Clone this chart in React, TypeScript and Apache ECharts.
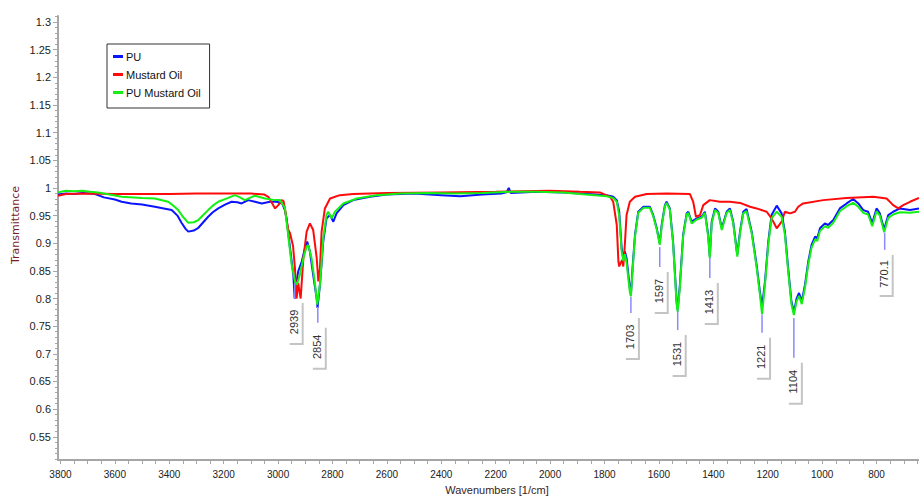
import React, { useEffect, useRef } from 'react';
import * as echarts from 'echarts';

// ---------- data ----------
const puWn = [3809, 3780, 3750, 3720, 3690, 3673, 3640, 3600, 3575, 3540, 3500, 3453, 3420, 3391, 3370, 3355, 3340, 3330, 3310, 3293, 3275, 3257, 3240, 3220, 3195, 3171, 3150, 3134, 3110, 3085, 3060, 3030, 3005, 2985, 2975, 2969, 2956, 2944, 2939, 2932, 2926, 2913, 2901, 2893, 2883, 2871, 2858, 2855, 2846, 2834, 2822, 2809, 2797, 2785, 2760, 2724, 2662, 2601, 2500, 2400, 2330, 2250, 2180, 2160, 2152, 2145, 2050, 1950, 1890, 1792, 1768, 1755, 1746, 1737, 1731, 1725, 1719, 1707, 1703, 1697, 1688, 1676, 1657, 1633, 1621, 1608, 1597, 1590, 1578, 1572, 1560, 1548, 1535, 1531, 1523, 1511, 1498, 1492, 1480, 1461, 1443, 1431, 1419, 1413, 1406, 1394, 1382, 1369, 1351, 1339, 1327, 1312, 1302, 1290, 1278, 1259, 1241, 1229, 1221, 1210, 1198, 1186, 1167, 1149, 1137, 1125, 1113, 1104, 1094, 1085, 1075, 1063, 1051, 1039, 1026, 1018, 1008, 990, 978, 959, 935, 910, 886, 867, 849, 831, 816, 800, 788, 772, 757, 739, 714, 677, 644];
const puT = [0.988, 0.99, 0.989, 0.991, 0.99, 0.989, 0.983, 0.979, 0.975, 0.972, 0.97, 0.966, 0.963, 0.96, 0.95, 0.937, 0.926, 0.921, 0.923, 0.928, 0.938, 0.948, 0.956, 0.963, 0.97, 0.975, 0.974, 0.972, 0.978, 0.975, 0.972, 0.975, 0.975, 0.972, 0.96, 0.945, 0.891, 0.843, 0.8, 0.83, 0.849, 0.867, 0.891, 0.903, 0.885, 0.843, 0.8, 0.783, 0.825, 0.903, 0.945, 0.951, 0.939, 0.954, 0.969, 0.978, 0.984, 0.988, 0.99, 0.987, 0.985, 0.988, 0.99, 0.992, 1.0, 0.991, 0.993, 0.992, 0.99, 0.987, 0.984, 0.978, 0.957, 0.891, 0.873, 0.885, 0.873, 0.819, 0.807, 0.855, 0.915, 0.957, 0.966, 0.966, 0.951, 0.927, 0.9, 0.933, 0.969, 0.975, 0.963, 0.903, 0.795, 0.78, 0.825, 0.915, 0.954, 0.957, 0.939, 0.945, 0.948, 0.957, 0.915, 0.876, 0.939, 0.963, 0.957, 0.927, 0.957, 0.963, 0.939, 0.879, 0.921, 0.957, 0.962, 0.921, 0.861, 0.813, 0.785, 0.831, 0.903, 0.951, 0.968, 0.954, 0.921, 0.855, 0.795, 0.775, 0.8, 0.81, 0.795, 0.825, 0.867, 0.897, 0.912, 0.909, 0.927, 0.936, 0.933, 0.942, 0.963, 0.972, 0.98, 0.972, 0.96, 0.957, 0.936, 0.963, 0.954, 0.925, 0.951, 0.957, 0.963, 0.96, 0.963];

const oilWn = [3809, 3780, 3700, 3600, 3500, 3400, 3300, 3200, 3100, 3050, 3036, 3025, 3011, 2999, 2987, 2980, 2975, 2963, 2956, 2945, 2938, 2932, 2926, 2917, 2907, 2895, 2883, 2871, 2858, 2852, 2846, 2840, 2828, 2809, 2773, 2724, 2600, 2400, 2200, 2000, 1890, 1817, 1780, 1768, 1755, 1749, 1746, 1740, 1735, 1731, 1725, 1719, 1707, 1688, 1645, 1572, 1486, 1474, 1464, 1449, 1437, 1413, 1376, 1339, 1302, 1265, 1241, 1204, 1186, 1167, 1149, 1137, 1118, 1100, 1088, 1070, 996, 910, 812, 763, 739, 720, 702, 677, 644];
const oilT = [0.986, 0.989, 0.99, 0.989, 0.989, 0.989, 0.99, 0.99, 0.99, 0.988, 0.984, 0.975, 0.963, 0.969, 0.978, 0.976, 0.963, 0.925, 0.918, 0.895, 0.855, 0.8, 0.828, 0.8, 0.873, 0.921, 0.936, 0.924, 0.873, 0.831, 0.855, 0.921, 0.963, 0.981, 0.987, 0.989, 0.991, 0.992, 0.993, 0.995, 0.993, 0.992, 0.984, 0.975, 0.933, 0.867, 0.858, 0.865, 0.87, 0.858, 0.9, 0.951, 0.975, 0.984, 0.989, 0.99, 0.989, 0.975, 0.948, 0.951, 0.969, 0.978, 0.975, 0.975, 0.973, 0.966, 0.963, 0.957, 0.945, 0.927, 0.939, 0.957, 0.954, 0.957, 0.966, 0.972, 0.978, 0.982, 0.984, 0.981, 0.969, 0.963, 0.969, 0.975, 0.982];

const pumoWn = [3809, 3780, 3750, 3720, 3690, 3662, 3620, 3575, 3500, 3453, 3404, 3385, 3367, 3350, 3330, 3310, 3293, 3275, 3257, 3240, 3220, 3183, 3159, 3140, 3122, 3100, 3085, 3048, 3011, 2993, 2975, 2963, 2950, 2938, 2931, 2920, 2907, 2895, 2889, 2877, 2864, 2856, 2846, 2834, 2822, 2816, 2803, 2791, 2760, 2711, 2638, 2550, 2450, 2350, 2250, 2150, 2050, 1950, 1890, 1792, 1768, 1755, 1746, 1737, 1731, 1725, 1719, 1707, 1703, 1697, 1688, 1676, 1657, 1633, 1621, 1608, 1597, 1590, 1578, 1572, 1560, 1548, 1535, 1531, 1523, 1511, 1498, 1492, 1480, 1461, 1443, 1431, 1419, 1413, 1406, 1394, 1382, 1369, 1351, 1339, 1327, 1312, 1302, 1290, 1278, 1259, 1241, 1229, 1221, 1210, 1198, 1186, 1167, 1149, 1137, 1125, 1113, 1104, 1094, 1085, 1075, 1063, 1051, 1039, 1026, 1018, 1008, 990, 978, 959, 935, 910, 886, 867, 849, 831, 816, 800, 788, 772, 757, 739, 714, 677, 644];
const pumoT = [0.992, 0.995, 0.994, 0.995, 0.993, 0.992, 0.988, 0.984, 0.982, 0.981, 0.975, 0.968, 0.96, 0.948, 0.937, 0.938, 0.942, 0.951, 0.96, 0.968, 0.975, 0.982, 0.987, 0.983, 0.978, 0.983, 0.986, 0.981, 0.978, 0.978, 0.964, 0.915, 0.861, 0.831, 0.825, 0.843, 0.873, 0.894, 0.897, 0.873, 0.825, 0.789, 0.825, 0.909, 0.951, 0.957, 0.945, 0.957, 0.972, 0.981, 0.987, 0.99, 0.991, 0.99, 0.991, 0.993, 0.993, 0.992, 0.989, 0.985, 0.982, 0.975, 0.95, 0.885, 0.868, 0.88, 0.865, 0.812, 0.804, 0.85, 0.912, 0.955, 0.964, 0.964, 0.949, 0.925, 0.897, 0.93, 0.967, 0.973, 0.961, 0.9, 0.79, 0.776, 0.82, 0.912, 0.952, 0.955, 0.936, 0.943, 0.946, 0.955, 0.912, 0.873, 0.936, 0.96, 0.955, 0.924, 0.955, 0.96, 0.936, 0.876, 0.918, 0.954, 0.958, 0.918, 0.857, 0.808, 0.772, 0.826, 0.898, 0.945, 0.957, 0.948, 0.916, 0.85, 0.79, 0.77, 0.795, 0.805, 0.79, 0.82, 0.862, 0.892, 0.907, 0.904, 0.922, 0.931, 0.928, 0.937, 0.958, 0.967, 0.973, 0.966, 0.955, 0.952, 0.931, 0.958, 0.95, 0.92, 0.946, 0.952, 0.956, 0.955, 0.957];

// peak annotations: wavenumber, top / bottom of the marker line (transmittance), label
const peakWn = [2939, 2854, 1703, 1597, 1531, 1413, 1221, 1104, 770.1];
const peakTop = [0.828, 0.785, 0.803, 0.893, 0.78, 0.875, 0.771, 0.765, 0.919];
const peakBottom = [0.801, 0.756, 0.774, 0.857, 0.743, 0.837, 0.738, 0.693, 0.888];
const peakLabels = ['2939', '2854', '1703', '1597', '1531', '1413', '1221', '1104', '770.1'];

const xTickLabels = [3800, 3600, 3400, 3200, 3000, 2800, 2600, 2400, 2200, 2000, 1800, 1600, 1400, 1200, 1000, 800];
const yTickLabels = [0.55, 0.6, 0.65, 0.7, 0.75, 0.8, 0.85, 0.9, 0.95, 1, 1.05, 1.1, 1.15, 1.2, 1.25, 1.3];

const seriesNames = ['PU', 'Mustard Oil', 'PU Mustard Oil'];
const seriesColors = ['#0a14ff', '#ff0a0a', '#14f014'];

const X_MIN = 644;
const X_MAX = 3809;
const Y_MIN = 0.508;
const Y_MAX = 1.311;

export default function App() {
  const ref = useRef<HTMLDivElement>(null);

  useEffect(() => {
    if (!ref.current) return;
    const chart = echarts.init(ref.current, null, { renderer: 'svg' });

    const xMinor: number[] = [];
    for (let v = 650; v <= 3800; v += 50) xMinor.push(v);
    const yMinor: number[] = [];
    for (let i = 51; i <= 131; i++) yMinor.push(i / 100);

    const axisGray = '#a6a6a6';
    const fmtY = (v: number) => String(Number(v.toFixed(2)));
    const fmtX = (v: number) => String(Math.round(v));

    const toPairs = (wn: number[], t: number[]) => wn.map((w, i) => [w, t[i]]);
    const peakData = peakWn.map((w, i) => [w, peakTop[i], peakBottom[i]]);

    chart.setOption({
      animation: false,
      backgroundColor: '#ffffff',
      grid: { left: 58, right: 0, top: 16, bottom: 36 },
      legend: {
        data: seriesNames.map((n) => ({ name: n, icon: 'rect' })),
        orient: 'vertical',
        left: 107,
        top: 44,
        padding: [6, 9, 9, 6],
        itemGap: 5,
        itemWidth: 10,
        itemHeight: 3,
        borderColor: '#333333',
        borderWidth: 1,
        backgroundColor: '#ffffff',
        textStyle: { fontFamily: 'Liberation Sans', fontSize: 11, color: '#111', lineHeight: 13, padding: [0, 0, 0, -2] },
      },
      xAxis: {
        type: 'value',
        inverse: true,
        min: X_MIN,
        max: X_MAX,
        splitLine: { show: false },
        axisLine: { show: true, onZero: false, lineStyle: { color: axisGray, width: 2 } },
        axisTick: { show: true, length: 4, customValues: xMinor, lineStyle: { color: axisGray, width: 1 } },
        axisLabel: {
          customValues: xTickLabels,
          formatter: fmtX,
          margin: 9,
          color: '#222',
          fontFamily: 'Liberation Sans',
          fontSize: 10,
        },
      },
      yAxis: [
        {
          type: 'value',
          min: Y_MIN,
          max: Y_MAX,
          splitLine: { show: false },
          axisLine: { show: true, onZero: false, lineStyle: { color: axisGray, width: 2 } },
          axisTick: { show: true, length: 5, customValues: yTickLabels, lineStyle: { color: axisGray, width: 1 } },
          axisLabel: {
            customValues: yTickLabels,
            formatter: fmtY,
            margin: 7,
            color: '#222',
            fontFamily: 'Liberation Sans',
            fontSize: 11,
          },
        },
        {
          type: 'value',
          min: Y_MIN,
          max: Y_MAX,
          position: 'left',
          offset: 0,
          splitLine: { show: false },
          axisLine: { show: false },
          axisTick: { show: true, length: 3, customValues: yMinor, lineStyle: { color: axisGray, width: 1 } },
          axisLabel: { show: false },
        },
      ],
      graphic: [
        {
          type: 'text',
          x: 497,
          y: 490,
          style: {
            text: 'Wavenumbers [1/cm]',
            fill: '#3b2222',
            font: '11px "Liberation Sans"',
            align: 'center',
            verticalAlign: 'middle',
          },
        },
        {
          type: 'text',
          x: 15,
          y: 225,
          rotation: Math.PI / 2,
          style: {
            text: 'Transmittance',
            fill: '#7a1c1c',
            font: '11px "DejaVu Sans"',
            align: 'center',
            verticalAlign: 'middle',
          },
        },
      ],
      series: [
        {
          name: seriesNames[0],
          type: 'line',
          data: toPairs(puWn, puT),
          showSymbol: false,
          symbol: 'none',
          lineStyle: { color: seriesColors[0], width: 2 },
          itemStyle: { color: seriesColors[0] },
          z: 2,
        },
        {
          name: seriesNames[1],
          type: 'line',
          data: toPairs(oilWn, oilT),
          showSymbol: false,
          symbol: 'none',
          lineStyle: { color: seriesColors[1], width: 2 },
          itemStyle: { color: seriesColors[1] },
          z: 3,
        },
        {
          name: seriesNames[2],
          type: 'line',
          data: toPairs(pumoWn, pumoT),
          showSymbol: false,
          symbol: 'none',
          lineStyle: { color: seriesColors[2], width: 2 },
          itemStyle: { color: seriesColors[2] },
          z: 4,
        },
        {
          type: 'custom',
          name: 'peaks',
          data: peakData,
          encode: { x: 0, y: 1 },
          z: 5,
          silent: true,
          clip: false,
          renderItem: (params: any, api: any) => {
            const w = api.value(0);
            const p1 = api.coord([w, api.value(1)]);
            const p2 = api.coord([w, api.value(2)]);
            const x = p1[0];
            const by = p2[1];
            return {
              type: 'group',
              children: [
                {
                  type: 'line',
                  shape: { x1: x, y1: p1[1], x2: x, y2: by },
                  style: { stroke: '#8a8aff', lineWidth: 1.5 },
                },
                {
                  type: 'polyline',
                  shape: { points: [[x + 8, by + 5], [x + 8, by + 46], [x - 5, by + 46]] },
                  style: { stroke: '#c4c4c4', lineWidth: 2, fill: null },
                },
                {
                  type: 'text',
                  x: x - 1,
                  y: by + 24,
                  rotation: Math.PI / 2,
                  style: {
                    text: peakLabels[params.dataIndex],
                    fill: '#333',
                    font: '11px "Liberation Sans"',
                    align: 'center',
                    verticalAlign: 'middle',
                  },
                },
              ],
            };
          },
        },
      ],
    });

    return () => chart.dispose();
  }, []);

  return (
    <div
      ref={ref}
      style={{ position: 'fixed', left: 0, top: 0, width: 919, height: 496, background: '#fff' }}
    />
  );
}
